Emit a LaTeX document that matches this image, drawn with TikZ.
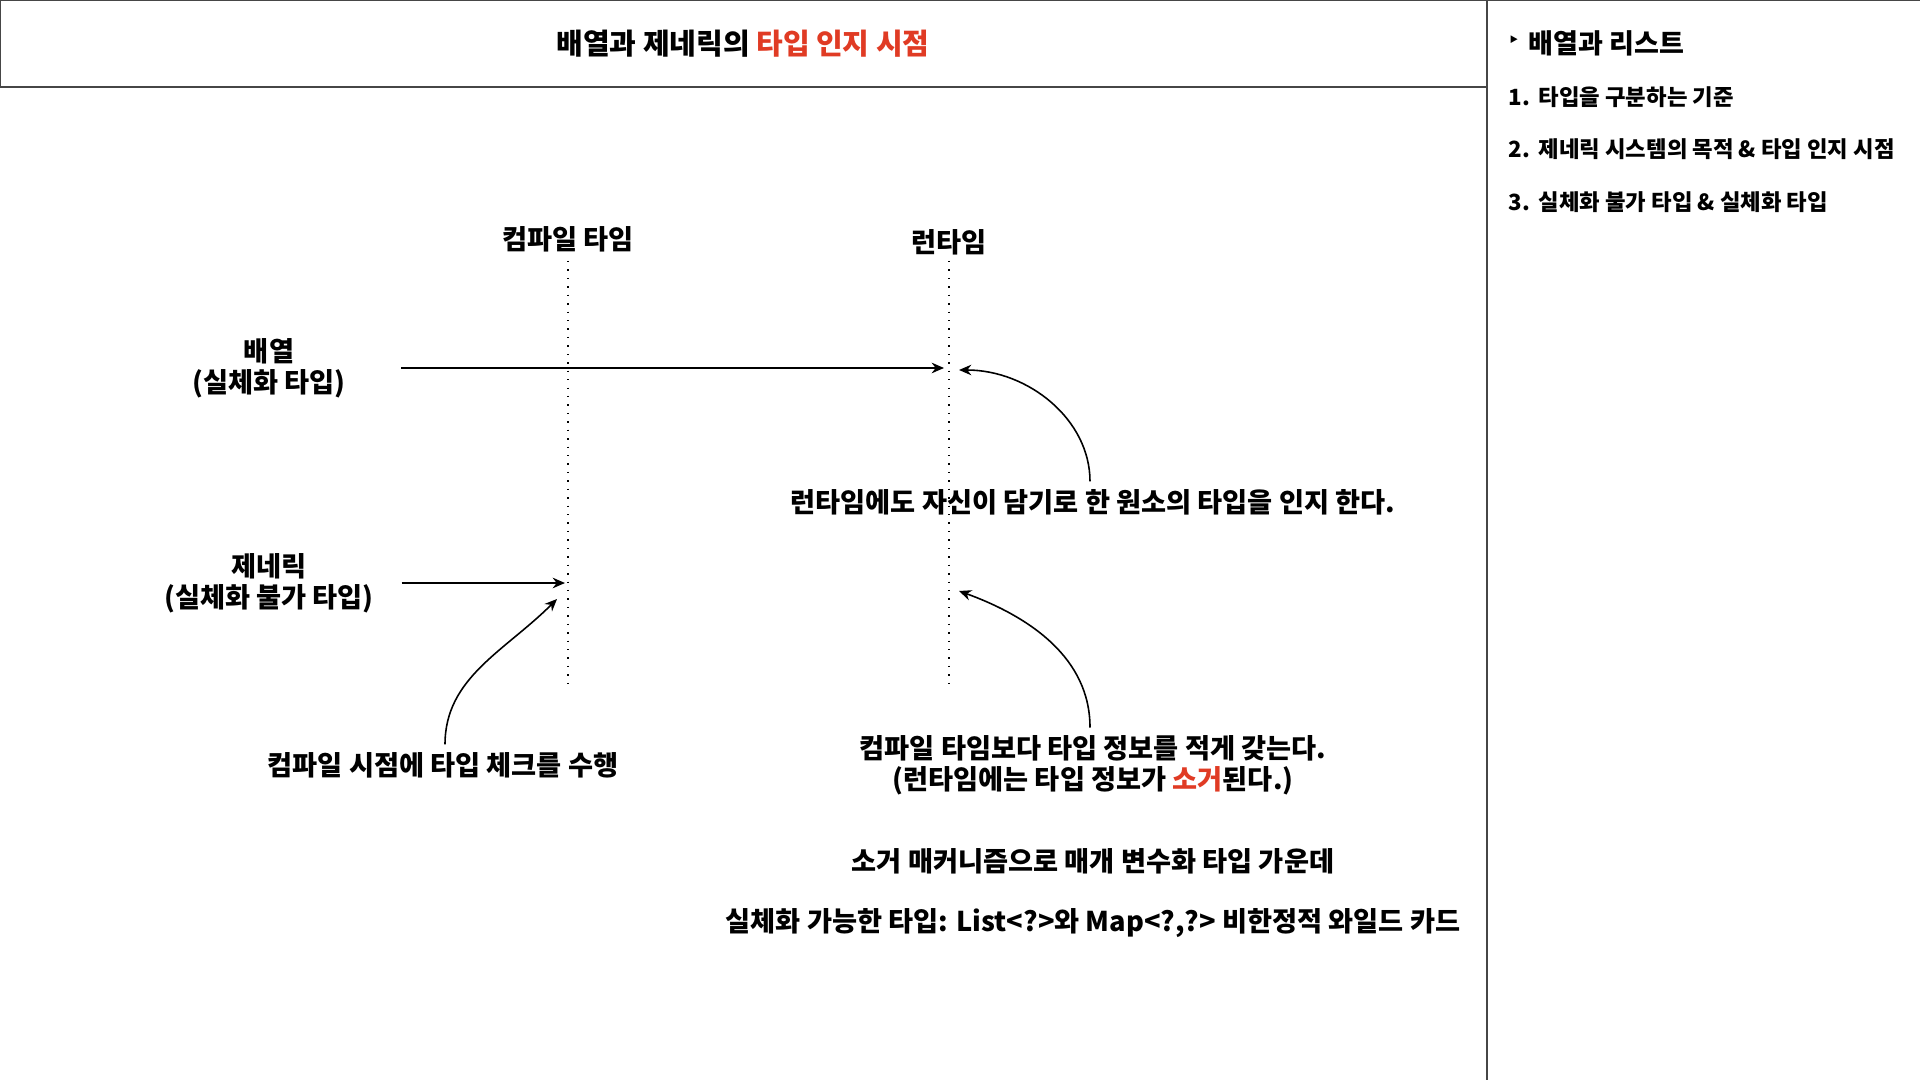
\documentclass[tikz,border=0pt]{standalone}
\usepackage{fontspec}
\setmainfont{Noto Sans CJK KR}
\newfontfamily\symfont{DejaVu Sans}
\usetikzlibrary{arrows.meta,positioning}
\definecolor{accent}{RGB}{224,59,36}
\definecolor{frame}{RGB}{70,70,70}

\begin{document}
\begin{tikzpicture}[
  txt/.style={font=\bfseries\fontsize{7.75}{8.8}\selectfont,align=center,inner sep=0pt},
  side/.style={font=\bfseries\fontsize{6.35}{7.5}\selectfont,anchor=west,inner sep=0pt},
  lane/.style={dotted,line width=0.4pt},
  arr/.style={-{Stealth[length=3.5pt,width=3pt]},line width=0.6pt},
  curvearr/.style={-{Stealth[length=3.5pt,width=3pt]},line width=0.45pt}
]
\useasboundingbox (0,0) rectangle (19.2,-10.8);

% frames
\draw[frame,line width=0.6pt] (0,0) rectangle (14.87,-0.87);
\draw[frame,line width=0.6pt] (14.87,-10.8) -- (14.87,0) -- (19.2,0);

% title
\node[txt,font=\bfseries\fontsize{8.25}{9}\selectfont] (title) at (7.43,-0.44)
  {배열과 제네릭의 \textcolor{accent}{타입 인지 시점}};

% side panel
\node[side,font=\symfont\fontsize{6}{7}\selectfont] (bullet) at (15.07,-0.42) {‣};
\node[side,font=\bfseries\fontsize{7.7}{9}\selectfont] (listhead) at (15.28,-0.43) {배열과 리스트};
\node[side] (item1) at (15.08,-0.97) {\makebox[0.3cm][l]{1.}타입을 구분하는 기준};
\node[side] (item2) at (15.08,-1.49) {\makebox[0.3cm][l]{2.}제네릭 시스템의 목적 \& 타입 인지 시점};
\node[side] (item3) at (15.08,-2.02) {\makebox[0.3cm][l]{3.}실체화 불가 타입 \& 실체화 타입};

% lanes
\node[txt] (compile) at (5.68,-2.39) {컴파일 타임};
\node[txt] (runtime) at (9.49,-2.42) {런타임};
\coordinate (ct-top) at (5.68,-2.61);
\coordinate (ct-bot) at (5.68,-6.83);
\coordinate (rt-top) at (9.49,-2.61);
\coordinate (rt-bot) at (9.49,-6.83);
\draw[lane] (ct-top) -- (ct-bot);
\draw[lane] (rt-top) -- (rt-bot);

% kinds
\node[txt] (array) at (2.69,-3.68) {배열\\(실체화 타입)};
\node[txt] (generic) at (2.69,-5.83) {제네릭\\(실체화 불가 타입)};
\draw[arr,shorten <=0.55cm,shorten >=0.05cm] (array.east) -- (array.east -| rt-top);
\draw[arr,shorten <=0.27cm,shorten >=0.03cm] (generic.east) -- (generic.east -| ct-top);

% notes
\node[txt] (rtnote) at (10.93,-5.02) {런타임에도 자신이 담기로 한 원소의 타입을 인지 한다.};
\node[txt] (ctnote) at (4.43,-7.65) {컴파일 시점에 타입 체크를 수행};
\node[txt] (erasenote) at (10.93,-7.65)
  {컴파일 타임보다 타입 정보를 적게 갖는다.\\(런타임에는 타입 정보가 \textcolor{accent}{소거}된다.)};
\node[txt] (mechnote) at (10.93,-8.61) {소거 매커니즘으로 매개 변수화 타입 가운데};
\node[txt] (wildnote) at (10.93,-9.23) {실체화 가능한 타입: List<?>와 Map<?,?> 비한정적 와일드 카드};

\coordinate (rt-hit1) at (9.59,-3.70);
\coordinate (ct-hit) at (5.57,-5.99);
\coordinate (rt-hit2) at (9.59,-5.91);
\draw[curvearr,shorten <=2pt] ([xshift=-0.03cm]rtnote.north) to[out=90,in=0] (rt-hit1);
\draw[curvearr,shorten <=2pt] ([xshift=0.02cm]ctnote.north) to[out=90,in=-135] (ct-hit);
\draw[curvearr,shorten <=2pt] ([xshift=-0.03cm]erasenote.north) to[out=90,in=-20] (rt-hit2);
\end{tikzpicture}
\end{document}
